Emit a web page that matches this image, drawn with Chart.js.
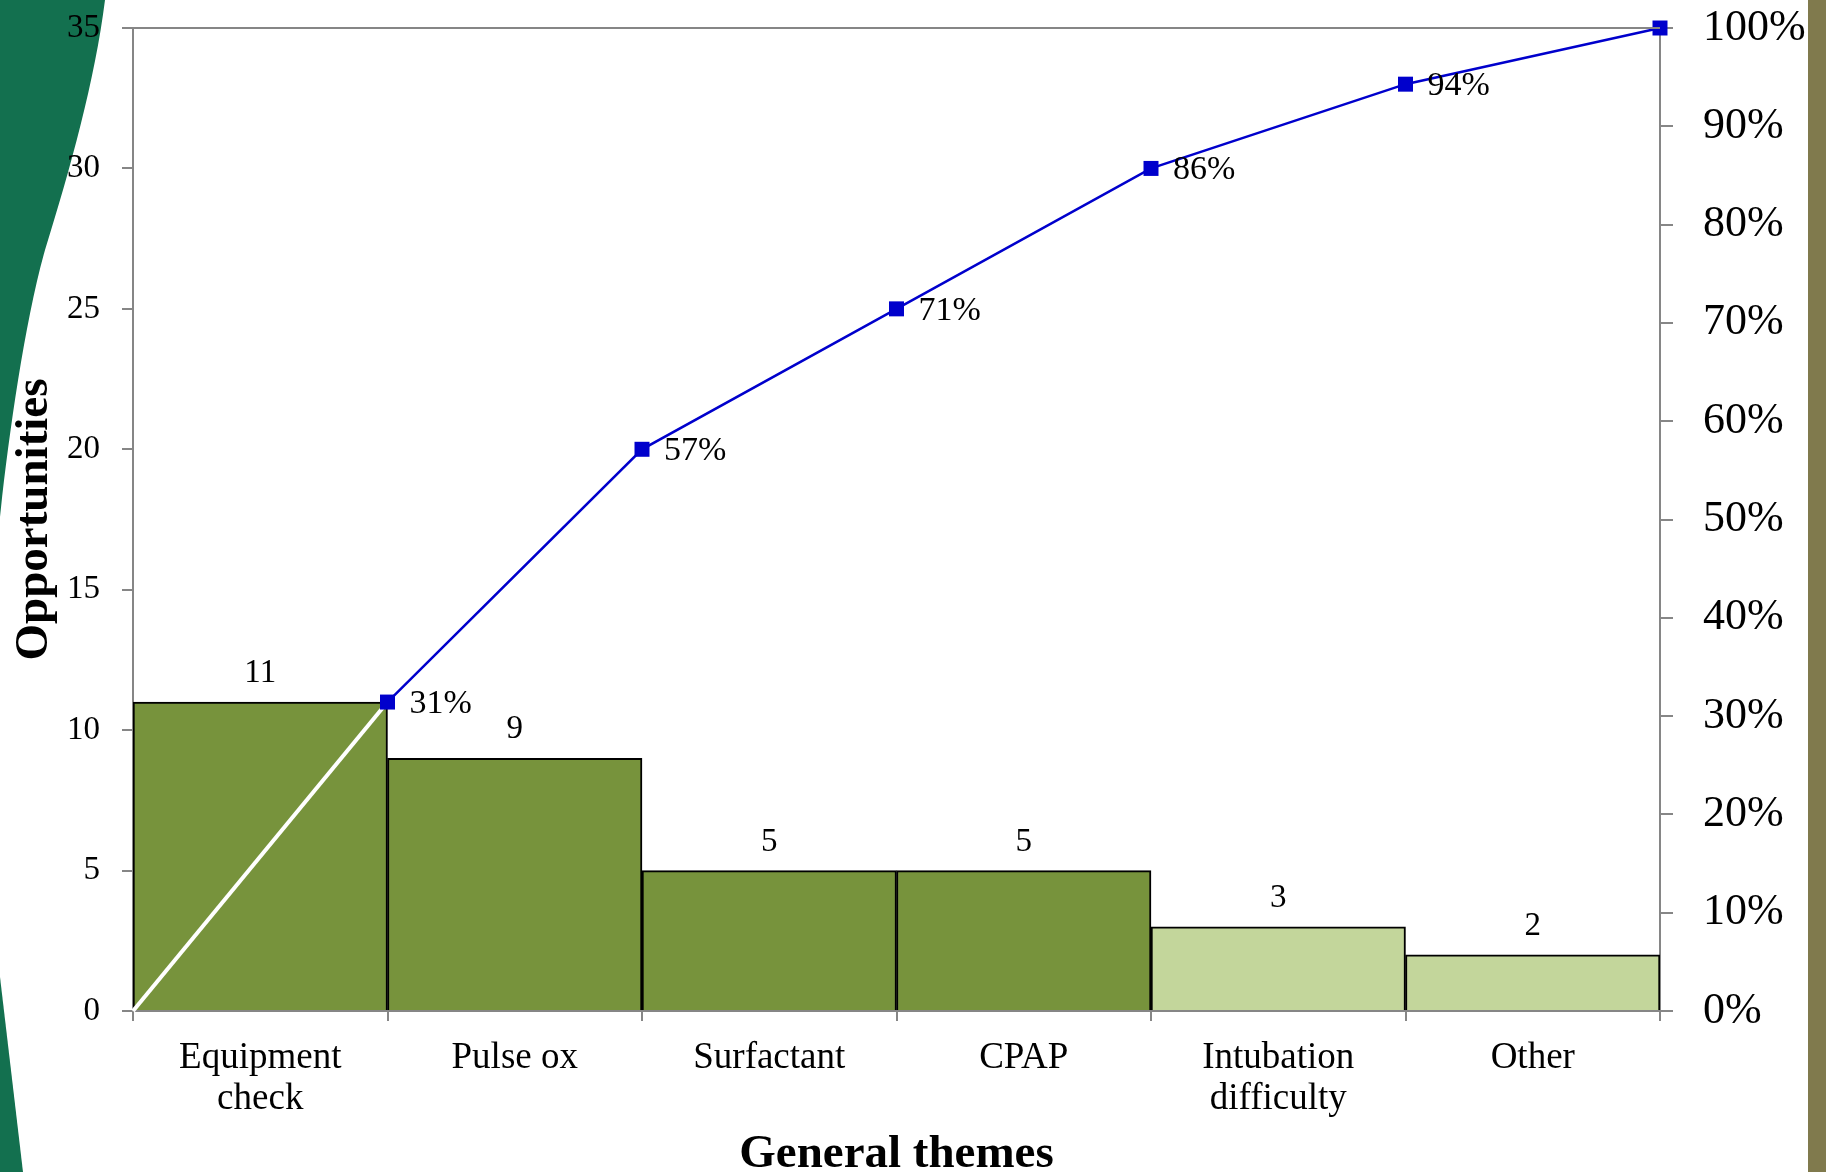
<!DOCTYPE html>
<html>
<head>
<meta charset="utf-8">
<script src="https://cdn.jsdelivr.net/npm/chart.js@4.4.1/dist/chart.umd.min.js"></script>
<style>
  html, body { margin: 0; padding: 0; background: #ffffff; }
  #wrap { position: relative; width: 1826px; height: 1172px; overflow: hidden; }
  #deco { position: absolute; left: 0; top: 0; }
  #box { position: absolute; left: 0; top: 0; width: 1826px; height: 1172px; }
</style>
</head>
<body>
<div id="wrap">
  <svg id="deco" width="1826" height="1172" viewBox="0 0 1826 1172">
    <path d="M0,0 L105,0 C95,80 70,170 45,250 C25,320 8,440 0,517 Z" fill="#13704f"/>
    <path d="M0,977 L23,1172 L0,1172 Z" fill="#13704f"/>
    <rect x="1808" y="0" width="18" height="1172" fill="#807a4d"/>
  </svg>
  <div id="box"><canvas id="c"></canvas></div>
</div>
<script>
// ---- data ----
const categories = [['Equipment', 'check'], ['Pulse ox'], ['Surfactant'], ['CPAP'], ['Intubation', 'difficulty'], ['Other']];
const counts = [11, 9, 5, 5, 3, 2];
const barColors = ['#77933c', '#77933c', '#77933c', '#77933c', '#c3d69b', '#c3d69b'];
const cumulativePositions = [0, 1, 2, 3, 4, 5, 6];
const cumulativeCounts = [0, 11, 20, 25, 30, 33, 35];
const cumulativeLabels = ['', '31%', '57%', '71%', '86%', '94%', ''];
const leftTicks = { min: 0, max: 35, step: 5 };
const rightTicks = { min: 0, max: 100, step: 10 };

const FONT = "'Liberation Serif', 'Times New Roman', serif";
const AXIS_GRAY = '#868686';
const BLUE = '#0000cc';

const labelPlugin = {
  id: 'labels',
  afterDatasetsDraw(chart) {
    const ctx = chart.ctx;
    ctx.save();
    ctx.fillStyle = '#000';
    const barMeta = chart.getDatasetMeta(0);
    ctx.font = '33px ' + FONT;
    ctx.textAlign = 'center';
    ctx.textBaseline = 'alphabetic';
    barMeta.data.forEach((el, i) => {
      ctx.fillText(String(counts[i]), el.x, el.y - 20);
    });
    const lineMeta = chart.getDatasetMeta(1);
    ctx.font = '34px ' + FONT;
    ctx.textAlign = 'left';
    lineMeta.data.forEach((pt, i) => {
      if (cumulativeLabels[i]) ctx.fillText(cumulativeLabels[i], pt.x + 22, pt.y + 11);
    });
    ctx.restore();
  },
  afterDraw(chart) {
    const a = chart.chartArea;
    const ctx = chart.ctx;
    ctx.save();
    ctx.strokeStyle = AXIS_GRAY;
    ctx.lineWidth = 2;
    ctx.beginPath();
    ctx.moveTo(a.left, a.top);
    ctx.lineTo(a.right, a.top);
    ctx.stroke();
    ctx.restore();
  }
};

function noPad(s) { s.paddingTop = 0; s.paddingBottom = 0; s.paddingLeft = 0; s.paddingRight = 0; }

new Chart(document.getElementById('c'), {
  type: 'bar',
  data: {
    labels: categories,
    datasets: [
      {
        type: 'bar',
        data: counts,
        backgroundColor: barColors,
        borderColor: '#000000',
        borderWidth: 2,
        borderSkipped: 'bottom',
        barPercentage: 1.0,
        categoryPercentage: 1.0,
        grouped: false,
        xAxisID: 'x',
        yAxisID: 'y',
        order: 2
      },
      {
        type: 'line',
        data: cumulativePositions.map((p, i) => ({ x: p, y: cumulativeCounts[i] })),
        xAxisID: 'xl',
        yAxisID: 'y',
        borderColor: BLUE,
        borderWidth: 2.5,
        pointStyle: 'rect',
        pointRadius: cumulativePositions.map((p, i) => i === 0 ? 0 : 10.6),
        pointBackgroundColor: BLUE,
        pointBorderColor: BLUE,
        pointBorderWidth: 0,
        tension: 0,
        clip: false,
        order: 1,
        segment: {
          borderColor: c => c.p0DataIndex === 0 ? '#ffffff' : BLUE,
          borderWidth: c => c.p0DataIndex === 0 ? 4 : 2.5
        }
      }
    ]
  },
  options: {
    responsive: true,
    maintainAspectRatio: false,
    animation: false,
    events: [],
    layout: { padding: { top: 28, left: 0, right: 0, bottom: 0 } },
    plugins: { legend: { display: false }, tooltip: { enabled: false } },
    scales: {
      x: {
        type: 'category',
        position: 'bottom',
        offset: true,
        z: 1,
        grid: { display: true, offset: true, drawOnChartArea: false, drawTicks: true, tickLength: 10, color: AXIS_GRAY, lineWidth: 2 },
        border: { display: true, color: AXIS_GRAY, width: 2 },
        ticks: { color: '#000', font: { family: FONT, size: 37, lineHeight: 1.11 }, padding: 17, maxRotation: 0, autoSkip: false },
        title: { display: true, text: 'General themes', color: '#000', font: { family: FONT, size: 47, weight: 'bold', lineHeight: 0.72 }, padding: 0 },
        afterFit: s => { s.height = 161; noPad(s); }
      },
      xl: {
        type: 'linear',
        display: false,
        offset: false,
        grid: { offset: false },
        min: 0,
        max: 6
      },
      y: {
        type: 'linear',
        position: 'left',
        min: leftTicks.min,
        max: leftTicks.max,
        z: 1,
        ticks: { stepSize: leftTicks.step, color: '#000', font: { family: FONT, size: 33 }, padding: 22 },
        grid: { display: true, drawOnChartArea: false, drawTicks: true, tickLength: 11, color: AXIS_GRAY, lineWidth: 2 },
        border: { display: true, color: AXIS_GRAY, width: 2 },
        title: { display: true, text: 'Opportunities', color: '#000', font: { family: FONT, size: 47, weight: 'bold', lineHeight: 1.2 }, padding: { top: 7, bottom: 0 } },
        afterFit: s => { s.width = 133; noPad(s); }
      },
      yr: {
        type: 'linear',
        position: 'right',
        min: rightTicks.min,
        max: rightTicks.max,
        z: 1,
        ticks: { stepSize: rightTicks.step, color: '#000', font: { family: FONT, size: 44 }, padding: 30, callback: v => v + '%' },
        grid: { display: true, drawOnChartArea: false, drawTicks: true, tickLength: 13, color: AXIS_GRAY, lineWidth: 2 },
        border: { display: true, color: AXIS_GRAY, width: 2 },
        afterFit: s => { s.width = 166; noPad(s); }
      }
    }
  },
  plugins: [labelPlugin]
});
</script>
</body>
</html>
